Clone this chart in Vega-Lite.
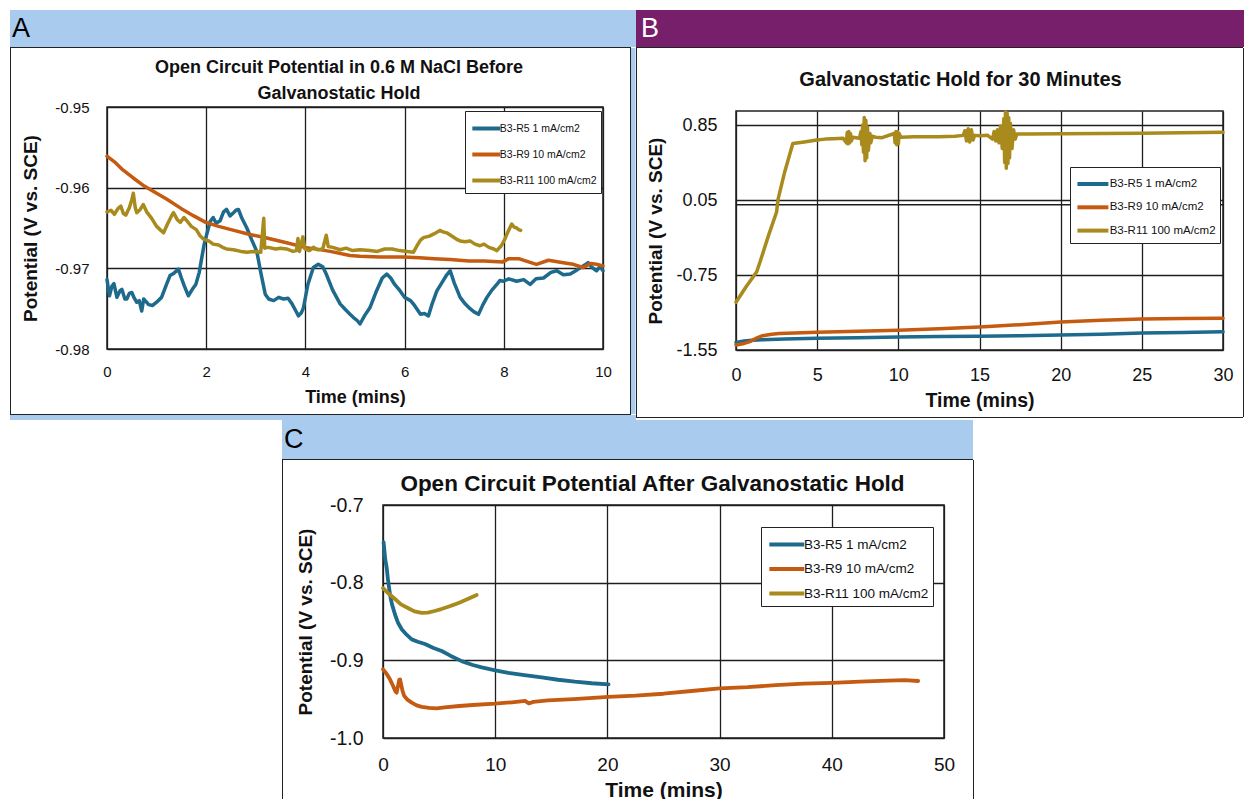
{
"$schema": "https://vega.github.io/schema/vega-lite/v6.json",
"padding": {"left": 10, "top": 10, "right": 0, "bottom": 0},
"background": "white",
"config": {
 "locale": {"number": {"decimal": ".", "thousands": ",", "grouping": [3], "currency": ["$", ""], "minus": "-"}},
 "font": "Liberation Sans",
 "axis": {"grid": true, "gridColor": "#1e1e1e", "gridWidth": 1.3, "gridOpacity": 1, "domain": false, "ticks": false, "tickSize": 0, "labelColor": "#111", "titleColor": "#111", "labelFont": "Liberation Sans", "titleFont": "Liberation Sans", "titleFontWeight": "bold", "labelFlush": false, "labelOverlap": false},
 "legend": {"orient": "none", "fillColor": "white", "strokeColor": "#222", "padding": 4, "symbolStrokeWidth": 4, "labelColor": "#111", "labelFont": "Liberation Sans", "title": null},
 "title": {"color": "#111", "font": "Liberation Sans", "fontWeight": "bold", "anchor": "middle"},
 "view": {"stroke": "#222", "strokeWidth": 1.5}
},
"datasets": {
 "a": [
  {"s":"R5","t":0,"v":-0.9714},{"s":"R5","t":0.05,"v":-0.9734},{"s":"R5","t":0.1,"v":-0.9722},{"s":"R5","t":0.14,"v":-0.9719},{"s":"R5","t":0.2,"v":-0.9736},{"s":"R5","t":0.26,"v":-0.9728},{"s":"R5","t":0.3,"v":-0.9726},{"s":"R5","t":0.36,"v":-0.9738},{"s":"R5","t":0.4,"v":-0.9738},{"s":"R5","t":0.45,"v":-0.9731},{"s":"R5","t":0.5,"v":-0.973},{"s":"R5","t":0.55,"v":-0.9737},{"s":"R5","t":0.6,"v":-0.9742},{"s":"R5","t":0.65,"v":-0.974},{"s":"R5","t":0.7,"v":-0.9753},{"s":"R5","t":0.74,"v":-0.9738},{"s":"R5","t":0.77,"v":-0.974},{"s":"R5","t":0.84,"v":-0.9745},{"s":"R5","t":0.92,"v":-0.9746},{"s":"R5","t":1.0,"v":-0.9742},{"s":"R5","t":1.1,"v":-0.9736},{"s":"R5","t":1.2,"v":-0.972},{"s":"R5","t":1.27,"v":-0.9709},{"s":"R5","t":1.35,"v":-0.9706},{"s":"R5","t":1.44,"v":-0.9701},{"s":"R5","t":1.5,"v":-0.9712},{"s":"R5","t":1.56,"v":-0.9722},{"s":"R5","t":1.64,"v":-0.9734},{"s":"R5","t":1.72,"v":-0.9726},{"s":"R5","t":1.79,"v":-0.972},{"s":"R5","t":1.86,"v":-0.9705},{"s":"R5","t":1.91,"v":-0.9687},{"s":"R5","t":1.96,"v":-0.967},{"s":"R5","t":2.01,"v":-0.9658},{"s":"R5","t":2.08,"v":-0.9642},{"s":"R5","t":2.14,"v":-0.9637},{"s":"R5","t":2.2,"v":-0.9644},{"s":"R5","t":2.28,"v":-0.9641},{"s":"R5","t":2.35,"v":-0.963},{"s":"R5","t":2.41,"v":-0.9627},{"s":"R5","t":2.48,"v":-0.9635},{"s":"R5","t":2.55,"v":-0.9631},{"s":"R5","t":2.6,"v":-0.9628},{"s":"R5","t":2.65,"v":-0.9627},{"s":"R5","t":2.72,"v":-0.9638},{"s":"R5","t":2.82,"v":-0.965},{"s":"R5","t":2.92,"v":-0.9665},{"s":"R5","t":3.02,"v":-0.9679},{"s":"R5","t":3.1,"v":-0.9705},{"s":"R5","t":3.19,"v":-0.9732},{"s":"R5","t":3.26,"v":-0.9738},{"s":"R5","t":3.36,"v":-0.974},{"s":"R5","t":3.46,"v":-0.9736},{"s":"R5","t":3.56,"v":-0.9738},{"s":"R5","t":3.65,"v":-0.9737},{"s":"R5","t":3.73,"v":-0.9744},{"s":"R5","t":3.8,"v":-0.9752},{"s":"R5","t":3.86,"v":-0.9759},{"s":"R5","t":3.92,"v":-0.9755},{"s":"R5","t":3.96,"v":-0.9749},{"s":"R5","t":4.05,"v":-0.972},{"s":"R5","t":4.16,"v":-0.9699},{"s":"R5","t":4.26,"v":-0.9695},{"s":"R5","t":4.35,"v":-0.9698},{"s":"R5","t":4.42,"v":-0.9707},{"s":"R5","t":4.55,"v":-0.9727},{"s":"R5","t":4.7,"v":-0.9744},{"s":"R5","t":4.82,"v":-0.9752},{"s":"R5","t":4.9,"v":-0.9757},{"s":"R5","t":4.97,"v":-0.9761},{"s":"R5","t":5.05,"v":-0.9765},{"s":"R5","t":5.1,"v":-0.9769},{"s":"R5","t":5.2,"v":-0.9758},{"s":"R5","t":5.3,"v":-0.9749},{"s":"R5","t":5.42,"v":-0.973},{"s":"R5","t":5.55,"v":-0.9712},{"s":"R5","t":5.64,"v":-0.9707},{"s":"R5","t":5.72,"v":-0.9712},{"s":"R5","t":5.8,"v":-0.972},{"s":"R5","t":5.91,"v":-0.9728},{"s":"R5","t":6.0,"v":-0.9736},{"s":"R5","t":6.12,"v":-0.974},{"s":"R5","t":6.2,"v":-0.9746},{"s":"R5","t":6.32,"v":-0.9757},{"s":"R5","t":6.4,"v":-0.9756},{"s":"R5","t":6.48,"v":-0.9759},{"s":"R5","t":6.55,"v":-0.9745},{"s":"R5","t":6.65,"v":-0.9728},{"s":"R5","t":6.75,"v":-0.9718},{"s":"R5","t":6.85,"v":-0.9708},{"s":"R5","t":6.92,"v":-0.9703},{"s":"R5","t":7.0,"v":-0.9718},{"s":"R5","t":7.12,"v":-0.9736},{"s":"R5","t":7.22,"v":-0.9744},{"s":"R5","t":7.32,"v":-0.975},{"s":"R5","t":7.4,"v":-0.9754},{"s":"R5","t":7.49,"v":-0.9757},{"s":"R5","t":7.58,"v":-0.9745},{"s":"R5","t":7.66,"v":-0.9736},{"s":"R5","t":7.76,"v":-0.9727},{"s":"R5","t":7.86,"v":-0.972},{"s":"R5","t":7.92,"v":-0.9715},{"s":"R5","t":7.99,"v":-0.9716},{"s":"R5","t":8.1,"v":-0.9713},{"s":"R5","t":8.26,"v":-0.9716},{"s":"R5","t":8.4,"v":-0.9714},{"s":"R5","t":8.53,"v":-0.972},{"s":"R5","t":8.65,"v":-0.9713},{"s":"R5","t":8.8,"v":-0.9712},{"s":"R5","t":8.95,"v":-0.9705},{"s":"R5","t":9.07,"v":-0.9703},{"s":"R5","t":9.2,"v":-0.9708},{"s":"R5","t":9.34,"v":-0.9707},{"s":"R5","t":9.45,"v":-0.9703},{"s":"R5","t":9.55,"v":-0.9699},{"s":"R5","t":9.63,"v":-0.9696},{"s":"R5","t":9.7,"v":-0.9693},{"s":"R5","t":9.78,"v":-0.9699},{"s":"R5","t":9.87,"v":-0.9703},{"s":"R5","t":9.94,"v":-0.9698},{"s":"R5","t":10.0,"v":-0.9703},
  {"s":"R9","t":0,"v":-0.9561},{"s":"R9","t":0.15,"v":-0.9568},{"s":"R9","t":0.3,"v":-0.9577},{"s":"R9","t":0.53,"v":-0.9588},{"s":"R9","t":0.75,"v":-0.9598},{"s":"R9","t":1.0,"v":-0.9607},{"s":"R9","t":1.2,"v":-0.9614},{"s":"R9","t":1.5,"v":-0.9626},{"s":"R9","t":1.75,"v":-0.9635},{"s":"R9","t":1.99,"v":-0.9643},{"s":"R9","t":2.25,"v":-0.9648},{"s":"R9","t":2.5,"v":-0.9652},{"s":"R9","t":2.88,"v":-0.9658},{"s":"R9","t":3.2,"v":-0.9662},{"s":"R9","t":3.6,"v":-0.9668},{"s":"R9","t":3.99,"v":-0.9674},{"s":"R9","t":4.5,"v":-0.9679},{"s":"R9","t":4.9,"v":-0.9684},{"s":"R9","t":5.1,"v":-0.9685},{"s":"R9","t":5.5,"v":-0.9686},{"s":"R9","t":5.97,"v":-0.9686},{"s":"R9","t":6.3,"v":-0.9687},{"s":"R9","t":6.6,"v":-0.9688},{"s":"R9","t":6.92,"v":-0.9689},{"s":"R9","t":7.3,"v":-0.9691},{"s":"R9","t":7.6,"v":-0.9691},{"s":"R9","t":7.98,"v":-0.9692},{"s":"R9","t":8.1,"v":-0.9688},{"s":"R9","t":8.3,"v":-0.9688},{"s":"R9","t":8.5,"v":-0.9692},{"s":"R9","t":8.66,"v":-0.9695},{"s":"R9","t":8.9,"v":-0.969},{"s":"R9","t":9.2,"v":-0.9693},{"s":"R9","t":9.4,"v":-0.9695},{"s":"R9","t":9.6,"v":-0.9699},{"s":"R9","t":9.75,"v":-0.9694},{"s":"R9","t":9.87,"v":-0.9695},{"s":"R9","t":10.0,"v":-0.9697},
  {"s":"R11","t":0,"v":-0.963},{"s":"R11","t":0.08,"v":-0.9628},{"s":"R11","t":0.15,"v":-0.9633},{"s":"R11","t":0.22,"v":-0.9626},{"s":"R11","t":0.28,"v":-0.9623},{"s":"R11","t":0.33,"v":-0.9632},{"s":"R11","t":0.38,"v":-0.9634},{"s":"R11","t":0.45,"v":-0.9625},{"s":"R11","t":0.5,"v":-0.9615},{"s":"R11","t":0.53,"v":-0.9607},{"s":"R11","t":0.57,"v":-0.9625},{"s":"R11","t":0.6,"v":-0.9631},{"s":"R11","t":0.67,"v":-0.9627},{"s":"R11","t":0.73,"v":-0.9621},{"s":"R11","t":0.8,"v":-0.963},{"s":"R11","t":0.9,"v":-0.9638},{"s":"R11","t":1.0,"v":-0.9648},{"s":"R11","t":1.07,"v":-0.9652},{"s":"R11","t":1.14,"v":-0.9656},{"s":"R11","t":1.22,"v":-0.9645},{"s":"R11","t":1.3,"v":-0.9635},{"s":"R11","t":1.34,"v":-0.9631},{"s":"R11","t":1.42,"v":-0.964},{"s":"R11","t":1.48,"v":-0.9643},{"s":"R11","t":1.55,"v":-0.9637},{"s":"R11","t":1.61,"v":-0.9641},{"s":"R11","t":1.7,"v":-0.9648},{"s":"R11","t":1.8,"v":-0.9652},{"s":"R11","t":1.88,"v":-0.966},{"s":"R11","t":1.95,"v":-0.9664},{"s":"R11","t":2.05,"v":-0.9666},{"s":"R11","t":2.14,"v":-0.967},{"s":"R11","t":2.25,"v":-0.9671},{"s":"R11","t":2.33,"v":-0.9674},{"s":"R11","t":2.41,"v":-0.9676},{"s":"R11","t":2.55,"v":-0.9677},{"s":"R11","t":2.7,"v":-0.9679},{"s":"R11","t":2.82,"v":-0.968},{"s":"R11","t":2.95,"v":-0.9679},{"s":"R11","t":3.1,"v":-0.968},{"s":"R11","t":3.16,"v":-0.9638},{"s":"R11","t":3.18,"v":-0.9675},{"s":"R11","t":3.25,"v":-0.9674},{"s":"R11","t":3.4,"v":-0.9676},{"s":"R11","t":3.5,"v":-0.9675},{"s":"R11","t":3.62,"v":-0.9676},{"s":"R11","t":3.75,"v":-0.9679},{"s":"R11","t":3.82,"v":-0.9678},{"s":"R11","t":3.85,"v":-0.9663},{"s":"R11","t":3.88,"v":-0.9679},{"s":"R11","t":3.95,"v":-0.9661},{"s":"R11","t":3.99,"v":-0.9676},{"s":"R11","t":4.08,"v":-0.9678},{"s":"R11","t":4.16,"v":-0.9674},{"s":"R11","t":4.25,"v":-0.9677},{"s":"R11","t":4.35,"v":-0.9676},{"s":"R11","t":4.42,"v":-0.9659},{"s":"R11","t":4.46,"v":-0.9673},{"s":"R11","t":4.55,"v":-0.9674},{"s":"R11","t":4.7,"v":-0.9677},{"s":"R11","t":4.82,"v":-0.9675},{"s":"R11","t":4.95,"v":-0.9678},{"s":"R11","t":5.1,"v":-0.9677},{"s":"R11","t":5.3,"v":-0.9678},{"s":"R11","t":5.45,"v":-0.9679},{"s":"R11","t":5.6,"v":-0.9676},{"s":"R11","t":5.75,"v":-0.9676},{"s":"R11","t":5.9,"v":-0.9678},{"s":"R11","t":6.05,"v":-0.9679},{"s":"R11","t":6.18,"v":-0.968},{"s":"R11","t":6.25,"v":-0.9672},{"s":"R11","t":6.32,"v":-0.9665},{"s":"R11","t":6.38,"v":-0.9662},{"s":"R11","t":6.5,"v":-0.966},{"s":"R11","t":6.6,"v":-0.9657},{"s":"R11","t":6.71,"v":-0.9653},{"s":"R11","t":6.78,"v":-0.9655},{"s":"R11","t":6.85,"v":-0.9656},{"s":"R11","t":6.95,"v":-0.966},{"s":"R11","t":7.05,"v":-0.9664},{"s":"R11","t":7.12,"v":-0.9666},{"s":"R11","t":7.22,"v":-0.9667},{"s":"R11","t":7.32,"v":-0.9666},{"s":"R11","t":7.42,"v":-0.967},{"s":"R11","t":7.52,"v":-0.9672},{"s":"R11","t":7.6,"v":-0.967},{"s":"R11","t":7.7,"v":-0.9674},{"s":"R11","t":7.8,"v":-0.9676},{"s":"R11","t":7.86,"v":-0.9678},{"s":"R11","t":7.95,"v":-0.9672},{"s":"R11","t":8.02,"v":-0.9664},{"s":"R11","t":8.06,"v":-0.9658},{"s":"R11","t":8.12,"v":-0.965},{"s":"R11","t":8.16,"v":-0.9645},{"s":"R11","t":8.21,"v":-0.9649},{"s":"R11","t":8.26,"v":-0.965},{"s":"R11","t":8.3,"v":-0.9652},{"s":"R11","t":8.34,"v":-0.9653}
 ],
 "b": [
  {"s":"R5","t":0,"v":-1.47},{"s":"R5","t":0.5,"v":-1.455},{"s":"R5","t":1,"v":-1.445},{"s":"R5","t":1.64,"v":-1.44},{"s":"R5","t":3,"v":-1.432},{"s":"R5","t":5,"v":-1.425},{"s":"R5","t":7.5,"v":-1.418},{"s":"R5","t":10,"v":-1.41},{"s":"R5","t":12.5,"v":-1.407},{"s":"R5","t":15,"v":-1.404},{"s":"R5","t":17.5,"v":-1.398},{"s":"R5","t":20,"v":-1.39},{"s":"R5","t":22.5,"v":-1.382},{"s":"R5","t":25,"v":-1.368},{"s":"R5","t":27.5,"v":-1.362},{"s":"R5","t":30,"v":-1.354},
  {"s":"R9","t":0,"v":-1.496},{"s":"R9","t":0.5,"v":-1.48},{"s":"R9","t":0.86,"v":-1.461},{"s":"R9","t":1.3,"v":-1.42},{"s":"R9","t":1.64,"v":-1.397},{"s":"R9","t":2.2,"v":-1.382},{"s":"R9","t":2.66,"v":-1.375},{"s":"R9","t":5,"v":-1.36},{"s":"R9","t":7.5,"v":-1.35},{"s":"R9","t":10,"v":-1.339},{"s":"R9","t":12.5,"v":-1.322},{"s":"R9","t":15,"v":-1.304},{"s":"R9","t":17.5,"v":-1.28},{"s":"R9","t":20,"v":-1.25},{"s":"R9","t":22.5,"v":-1.232},{"s":"R9","t":25,"v":-1.218},{"s":"R9","t":27.5,"v":-1.213},{"s":"R9","t":30,"v":-1.211},
  {"s":"R11","t":0,"v":-1.04},{"s":"R11","t":0.6,"v":-0.88},{"s":"R11","t":1.27,"v":-0.718},{"s":"R11","t":1.5,"v":-0.6},{"s":"R11","t":2.0,"v":-0.33},{"s":"R11","t":2.5,"v":-0.077},{"s":"R11","t":2.55,"v":0.0},{"s":"R11","t":2.6,"v":0.066},{"s":"R11","t":3.0,"v":0.35},{"s":"R11","t":3.5,"v":0.654},{"s":"R11","t":4.2,"v":0.67},{"s":"R11","t":4.97,"v":0.69},{"s":"R11","t":5.5,"v":0.7},{"s":"R11","t":6.0,"v":0.705},{"s":"R11","t":6.6,"v":0.71},{"s":"R11","t":6.8,"v":0.66},{"s":"R11","t":6.85,"v":0.77},{"s":"R11","t":6.9,"v":0.65},{"s":"R11","t":6.95,"v":0.78},{"s":"R11","t":7.0,"v":0.66},{"s":"R11","t":7.05,"v":0.76},{"s":"R11","t":7.1,"v":0.68},{"s":"R11","t":7.2,"v":0.72},{"s":"R11","t":7.6,"v":0.71},{"s":"R11","t":7.7,"v":0.78},{"s":"R11","t":7.75,"v":0.64},{"s":"R11","t":7.8,"v":0.85},{"s":"R11","t":7.85,"v":0.56},{"s":"R11","t":7.9,"v":0.93},{"s":"R11","t":7.95,"v":0.47},{"s":"R11","t":8.0,"v":0.9},{"s":"R11","t":8.05,"v":0.5},{"s":"R11","t":8.1,"v":0.83},{"s":"R11","t":8.15,"v":0.58},{"s":"R11","t":8.25,"v":0.76},{"s":"R11","t":8.3,"v":0.66},{"s":"R11","t":8.4,"v":0.73},{"s":"R11","t":8.6,"v":0.72},{"s":"R11","t":9.0,"v":0.715},{"s":"R11","t":9.75,"v":0.76},{"s":"R11","t":9.8,"v":0.66},{"s":"R11","t":9.85,"v":0.78},{"s":"R11","t":9.9,"v":0.64},{"s":"R11","t":9.95,"v":0.78},{"s":"R11","t":10.0,"v":0.65},{"s":"R11","t":10.05,"v":0.76},{"s":"R11","t":10.15,"v":0.72},{"s":"R11","t":11,"v":0.725},{"s":"R11","t":12.5,"v":0.726},{"s":"R11","t":13.5,"v":0.73},{"s":"R11","t":14.0,"v":0.74},{"s":"R11","t":14.1,"v":0.79},{"s":"R11","t":14.2,"v":0.68},{"s":"R11","t":14.3,"v":0.81},{"s":"R11","t":14.4,"v":0.67},{"s":"R11","t":14.5,"v":0.8},{"s":"R11","t":14.6,"v":0.69},{"s":"R11","t":14.7,"v":0.74},{"s":"R11","t":15,"v":0.735},{"s":"R11","t":15.5,"v":0.74},{"s":"R11","t":15.8,"v":0.7},{"s":"R11","t":15.9,"v":0.78},{"s":"R11","t":16.0,"v":0.68},{"s":"R11","t":16.1,"v":0.8},{"s":"R11","t":16.2,"v":0.66},{"s":"R11","t":16.3,"v":0.84},{"s":"R11","t":16.4,"v":0.6},{"s":"R11","t":16.5,"v":0.92},{"s":"R11","t":16.55,"v":0.45},{"s":"R11","t":16.6,"v":0.99},{"s":"R11","t":16.65,"v":0.39},{"s":"R11","t":16.7,"v":0.98},{"s":"R11","t":16.75,"v":0.44},{"s":"R11","t":16.8,"v":0.93},{"s":"R11","t":16.85,"v":0.5},{"s":"R11","t":16.9,"v":0.87},{"s":"R11","t":17.0,"v":0.6},{"s":"R11","t":17.1,"v":0.8},{"s":"R11","t":17.2,"v":0.7},{"s":"R11","t":17.3,"v":0.755},{"s":"R11","t":18,"v":0.755},{"s":"R11","t":20,"v":0.757},{"s":"R11","t":22.5,"v":0.76},{"s":"R11","t":25,"v":0.763},{"s":"R11","t":27.5,"v":0.768},{"s":"R11","t":30,"v":0.772}
 ],
 "c": [
  {"s":"R5","t":0.05,"v":-0.748},{"s":"R5","t":0.1,"v":-0.755},{"s":"R5","t":0.2,"v":-0.77},{"s":"R5","t":0.33,"v":-0.781},{"s":"R5","t":0.45,"v":-0.797},{"s":"R5","t":0.62,"v":-0.815},{"s":"R5","t":0.8,"v":-0.828},{"s":"R5","t":1.07,"v":-0.841},{"s":"R5","t":1.35,"v":-0.852},{"s":"R5","t":1.67,"v":-0.86},{"s":"R5","t":2.1,"v":-0.867},{"s":"R5","t":2.56,"v":-0.873},{"s":"R5","t":3.1,"v":-0.876},{"s":"R5","t":3.74,"v":-0.879},{"s":"R5","t":4.5,"v":-0.884},{"s":"R5","t":5.23,"v":-0.888},{"s":"R5","t":6.0,"v":-0.894},{"s":"R5","t":7.01,"v":-0.901},{"s":"R5","t":8.0,"v":-0.906},{"s":"R5","t":8.8,"v":-0.909},{"s":"R5","t":10.0,"v":-0.913},{"s":"R5","t":11.17,"v":-0.916},{"s":"R5","t":12.6,"v":-0.919},{"s":"R5","t":14.14,"v":-0.922},{"s":"R5","t":15.6,"v":-0.925},{"s":"R5","t":17.1,"v":-0.9275},{"s":"R5","t":18.6,"v":-0.9295},{"s":"R5","t":20.1,"v":-0.931},
  {"s":"R9","t":0,"v":-0.9116},{"s":"R9","t":0.3,"v":-0.917},{"s":"R9","t":0.62,"v":-0.9245},{"s":"R9","t":0.9,"v":-0.933},{"s":"R9","t":1.1,"v":-0.94},{"s":"R9","t":1.22,"v":-0.9417},{"s":"R9","t":1.35,"v":-0.932},{"s":"R9","t":1.45,"v":-0.925},{"s":"R9","t":1.52,"v":-0.9245},{"s":"R9","t":1.6,"v":-0.93},{"s":"R9","t":1.75,"v":-0.94},{"s":"R9","t":1.9,"v":-0.946},{"s":"R9","t":2.2,"v":-0.951},{"s":"R9","t":2.56,"v":-0.9545},{"s":"R9","t":3.0,"v":-0.958},{"s":"R9","t":3.45,"v":-0.96},{"s":"R9","t":4.1,"v":-0.9612},{"s":"R9","t":4.78,"v":-0.9618},{"s":"R9","t":5.5,"v":-0.9605},{"s":"R9","t":6.8,"v":-0.9588},{"s":"R9","t":8.0,"v":-0.9575},{"s":"R9","t":9.98,"v":-0.9558},{"s":"R9","t":11.5,"v":-0.954},{"s":"R9","t":12.66,"v":-0.9523},{"s":"R9","t":13.0,"v":-0.9555},{"s":"R9","t":13.4,"v":-0.9535},{"s":"R9","t":14.7,"v":-0.9515},{"s":"R9","t":17.0,"v":-0.95},{"s":"R9","t":20.1,"v":-0.947},{"s":"R9","t":22.5,"v":-0.9455},{"s":"R9","t":25,"v":-0.943},{"s":"R9","t":27.5,"v":-0.9395},{"s":"R9","t":30,"v":-0.936},{"s":"R9","t":32.5,"v":-0.9345},{"s":"R9","t":35,"v":-0.932},{"s":"R9","t":37.5,"v":-0.93},{"s":"R9","t":40,"v":-0.929},{"s":"R9","t":42.5,"v":-0.9275},{"s":"R9","t":45,"v":-0.926},{"s":"R9","t":46.5,"v":-0.9255},{"s":"R9","t":47.7,"v":-0.9266},
  {"s":"R11","t":0,"v":-0.807},{"s":"R11","t":0.5,"v":-0.814},{"s":"R11","t":1.07,"v":-0.821},{"s":"R11","t":1.6,"v":-0.828},{"s":"R11","t":2.26,"v":-0.833},{"s":"R11","t":2.8,"v":-0.837},{"s":"R11","t":3.45,"v":-0.839},{"s":"R11","t":4.0,"v":-0.8385},{"s":"R11","t":4.6,"v":-0.8365},{"s":"R11","t":5.2,"v":-0.834},{"s":"R11","t":5.82,"v":-0.831},{"s":"R11","t":6.4,"v":-0.828},{"s":"R11","t":7.0,"v":-0.8245},{"s":"R11","t":7.7,"v":-0.82},{"s":"R11","t":8.35,"v":-0.816}
 ]
},
"spacing": 0,
"resolve": {"scale": {"color": "independent"}, "legend": {"color": "independent"}},
"vconcat": [
 {"spacing": 0,
  "resolve": {"scale": {"color": "independent"}, "legend": {"color": "independent"}},
  "hconcat": [
  {"spacing": 0,
   "resolve": {"scale": {"color": "independent"}, "legend": {"color": "independent"}},
   "vconcat": [
   {"width": 626, "height": 37, "view": {"fill": "#a9cbed", "stroke": null}, "data": {"values": [{"label": "A"}]},
    "mark": {"type": "text", "align": "left", "baseline": "middle", "fontSize": 27, "dx": 2, "color": "#000", "font": "Liberation Sans"},
    "encoding": {"text": {"field": "label"}, "x": {"datum": 0, "type": "quantitative", "scale": {"domain": [0, 1]}, "axis": null}, "y": {"datum": 0.5, "type": "quantitative", "scale": {"domain": [0, 1]}, "axis": null}}},
   {"width": 621, "height": 1, "data": {"values": []}, "mark": "point", "view": {"fill": "#222", "stroke": null}},
   {"spacing": 0,
    "resolve": {"scale": {"color": "independent"}, "legend": {"color": "independent"}},
    "hconcat": [
    {"width": 1, "height": 366, "data": {"values": []}, "mark": "point", "view": {"fill": "#222", "stroke": null}},
    {"width": 9, "height": 1, "data": {"values": []}, "mark": "point", "view": {"stroke": null}},
    {"spacing": 0,
     "resolve": {"scale": {"color": "independent"}, "legend": {"color": "independent"}},
     "vconcat": [
     {"width": 1, "height": 10, "data": {"values": []}, "mark": "point", "view": {"stroke": null}},
     {"width": 496, "height": 242, "data": {"name": "a"},
      "title": {"text": ["Open Circuit Potential in 0.6 M NaCl Before", "Galvanostatic Hold"], "fontSize": 18, "lineHeight": 26, "offset": -3, "dx": -16},
      "mark": {"type": "line", "strokeWidth": 3.5, "strokeJoin": "round", "strokeCap": "round"},
      "encoding": {
       "x": {"field": "t", "type": "quantitative", "scale": {"domain": [0, 10], "nice": false}, "axis": {"values": [0, 2, 4, 6, 8, 10], "title": "Time (mins)", "labelFontSize": 15, "labelPadding": 15, "titleFontSize": 18, "titlePadding": 9}},
       "y": {"field": "v", "type": "quantitative", "scale": {"domain": [-0.98, -0.95], "nice": false, "zero": false}, "axis": {"values": [-0.98, -0.97, -0.96, -0.95], "format": ".2f", "title": "Potential (V vs. SCE)", "labelFontSize": 15, "labelPadding": 18, "titleFontSize": 19, "titlePadding": 13, "minExtent": 54, "maxExtent": 54}},
       "color": {"field": "s", "type": "nominal", "scale": {"domain": ["R5", "R9", "R11"], "range": ["#1d6a8c", "#c55a11", "#a88a1d"]},
        "legend": {"legendX": 358, "legendY": 4, "labelFontSize": 10.5, "symbolType": "M-1.25,0H1.25", "symbolSize": 500, "symbolOffset": 3.8, "labelOffset": 0, "rowPadding": 4, "labelExpr": "datum.label == 'R5' ? 'B3-R5 1 mA/cm2' : datum.label == 'R9' ? 'B3-R9 10 mA/cm2' : 'B3-R11 100 mA/cm2'"}}
      }}
     ]},
    {"width": 17, "height": 1, "data": {"values": []}, "mark": "point", "view": {"stroke": null}},
    {"width": 1, "height": 366, "data": {"values": []}, "mark": "point", "view": {"fill": "#222", "stroke": null}},
    {"width": 4.5, "height": 366, "data": {"values": []}, "mark": "point", "view": {"fill": "#a9cbed", "stroke": null}}
    ]},
   {"width": 621, "height": 1, "data": {"values": []}, "mark": "point", "view": {"fill": "#222", "stroke": null}},
   {"width": 626, "height": 5, "data": {"values": []}, "mark": "point", "view": {"fill": "#a9cbed", "stroke": null}}
  ]},
  {"spacing": 0,
   "resolve": {"scale": {"color": "independent"}, "legend": {"color": "independent"}},
   "vconcat": [
   {"width": 608, "height": 37, "view": {"fill": "#771f6b", "stroke": null}, "data": {"values": [{"label": "B"}]},
    "mark": {"type": "text", "align": "left", "baseline": "middle", "fontSize": 27, "dx": 5, "color": "#fff", "font": "Liberation Sans"},
    "encoding": {"text": {"field": "label"}, "x": {"datum": 0, "type": "quantitative", "scale": {"domain": [0, 1]}, "axis": null}, "y": {"datum": 0.5, "type": "quantitative", "scale": {"domain": [0, 1]}, "axis": null}}},
   {"width": 607, "height": 1, "data": {"values": []}, "mark": "point", "view": {"fill": "#222", "stroke": null}},
   {"spacing": 0,
    "resolve": {"scale": {"color": "independent"}, "legend": {"color": "independent"}},
    "hconcat": [
    {"width": 1, "height": 369, "data": {"values": []}, "mark": "point", "view": {"fill": "#222", "stroke": null}},
    {"width": 8, "height": 1, "data": {"values": []}, "mark": "point", "view": {"stroke": null}},
    {"spacing": 0,
     "resolve": {"scale": {"color": "independent"}, "legend": {"color": "independent"}},
     "vconcat": [
     {"width": 1, "height": 21, "data": {"values": []}, "mark": "point", "view": {"stroke": null}},
     {"width": 487, "height": 239,
      "title": {"text": "Galvanostatic Hold for 30 Minutes", "fontSize": 20, "offset": 20, "dx": -19},
      "layer": [
       {"data": {"values": [{"z": 0}]}, "mark": {"type": "rule", "color": "#1e1e1e", "strokeWidth": 1.3}, "encoding": {"y": {"field": "z", "type": "quantitative"}}},
       {"data": {"name": "b"},
        "mark": {"type": "line", "strokeWidth": 3.5, "strokeJoin": "round", "strokeCap": "round"},
        "encoding": {
         "x": {"field": "t", "type": "quantitative", "scale": {"domain": [0, 30], "nice": false}, "axis": {"values": [0, 5, 10, 15, 20, 25, 30], "title": "Time (mins)", "labelFontSize": 18, "labelPadding": 16, "titleFontSize": 19.5, "titlePadding": 7}},
         "y": {"field": "v", "type": "quantitative", "scale": {"domain": [-1.55, 1.0], "nice": false, "zero": false}, "axis": {"values": [-1.55, -0.75, 0.05, 0.85], "format": ".2f", "title": "Potential (V vs. SCE)", "labelFontSize": 18, "labelPadding": 19, "titleFontSize": 19, "titlePadding": 16, "minExtent": 55, "maxExtent": 55}},
         "color": {"field": "s", "type": "nominal", "scale": {"domain": ["R5", "R9", "R11"], "range": ["#1d6a8c", "#c55a11", "#a88a1d"]},
          "legend": {"legendX": 334, "legendY": 56, "labelFontSize": 11.5, "symbolType": "M-1.46,0H1.46", "symbolSize": 450, "symbolOffset": 5.9, "labelOffset": 3.8, "rowPadding": 2.3, "labelExpr": "datum.label == 'R5' ? 'B3-R5 1 mA/cm2' : datum.label == 'R9' ? 'B3-R9 10 mA/cm2' : 'B3-R11 100 mA/cm2'"}}
        }}
      ]}
     ]},
    {"width": 9, "height": 1, "data": {"values": []}, "mark": "point", "view": {"stroke": null}},
    {"width": 1, "height": 369, "data": {"values": []}, "mark": "point", "view": {"fill": "#222", "stroke": null}}
    ]},
   {"width": 607, "height": 1, "data": {"values": []}, "mark": "point", "view": {"fill": "#222", "stroke": null}}
  ]}
 ]},
 {"spacing": 271,
  "resolve": {"scale": {"color": "independent"}, "legend": {"color": "independent"}},
  "hconcat": [
  {"width": 1, "height": 1, "data": {"values": []}, "mark": "point", "view": {"stroke": null}},
  {"spacing": 0,
   "resolve": {"scale": {"color": "independent"}, "legend": {"color": "independent"}},
   "vconcat": [
   {"width": 691, "height": 39, "view": {"fill": "#a9cbed", "stroke": null}, "data": {"values": [{"label": "C"}]},
    "mark": {"type": "text", "align": "left", "baseline": "middle", "fontSize": 27, "dx": 2, "color": "#000", "font": "Liberation Sans"},
    "encoding": {"text": {"field": "label"}, "x": {"datum": 0, "type": "quantitative", "scale": {"domain": [0, 1]}, "axis": null}, "y": {"datum": 0.5, "type": "quantitative", "scale": {"domain": [0, 1]}, "axis": null}}},
   {"width": 691, "height": 1, "data": {"values": []}, "mark": "point", "view": {"fill": "#222", "stroke": null}},
   {"spacing": 0,
    "resolve": {"scale": {"color": "independent"}, "legend": {"color": "independent"}},
    "hconcat": [
    {"width": 1, "height": 345, "data": {"values": []}, "mark": "point", "view": {"fill": "#222", "stroke": null}},
    {"width": 12, "height": 1, "data": {"values": []}, "mark": "point", "view": {"stroke": null}},
    {"spacing": 0,
     "resolve": {"scale": {"color": "independent"}, "legend": {"color": "independent"}},
     "vconcat": [
     {"width": 1, "height": 11, "data": {"values": []}, "mark": "point", "view": {"stroke": null}},
     {"width": 561, "height": 233, "data": {"name": "c"},
      "title": {"text": "Open Circuit Potential After Galvanostatic Hold", "fontSize": 22.5, "offset": 0, "dx": -11},
      "mark": {"type": "line", "strokeWidth": 3.8, "strokeJoin": "round", "strokeCap": "round"},
      "encoding": {
       "x": {"field": "t", "type": "quantitative", "scale": {"domain": [0, 50], "nice": false}, "axis": {"values": [0, 10, 20, 30, 40, 50], "title": "Time (mins)", "labelFontSize": 19, "labelPadding": 17, "titleFontSize": 21, "titlePadding": 5}},
       "y": {"field": "v", "type": "quantitative", "scale": {"domain": [-1.0, -0.7], "nice": false, "zero": false}, "axis": {"values": [-1.0, -0.9, -0.8, -0.7], "format": ".1f", "title": "Potential (V vs. SCE)", "labelFontSize": 19.5, "labelPadding": 20, "titleFontSize": 19, "titlePadding": 15, "minExtent": 53, "maxExtent": 53}},
       "color": {"field": "s", "type": "nominal", "scale": {"domain": ["R5", "R9", "R11"], "range": ["#1d6a8c", "#c55a11", "#a88a1d"]},
        "legend": {"legendX": 378, "legendY": 22, "labelFontSize": 13.5, "symbolType": "M-1.56,0H1.56", "symbolSize": 500, "symbolOffset": 8.3, "labelOffset": 3.6, "rowPadding": 2.5, "labelExpr": "datum.label == 'R5' ? 'B3-R5 1 mA/cm2' : datum.label == 'R9' ? 'B3-R9 10 mA/cm2' : 'B3-R11 100 mA/cm2'"}}
      }}
     ]},
    {"width": 17, "height": 1, "data": {"values": []}, "mark": "point", "view": {"stroke": null}},
    {"width": 1, "height": 345, "data": {"values": []}, "mark": "point", "view": {"fill": "#222", "stroke": null}}
    ]}
  ]}
 ]}
]
}
